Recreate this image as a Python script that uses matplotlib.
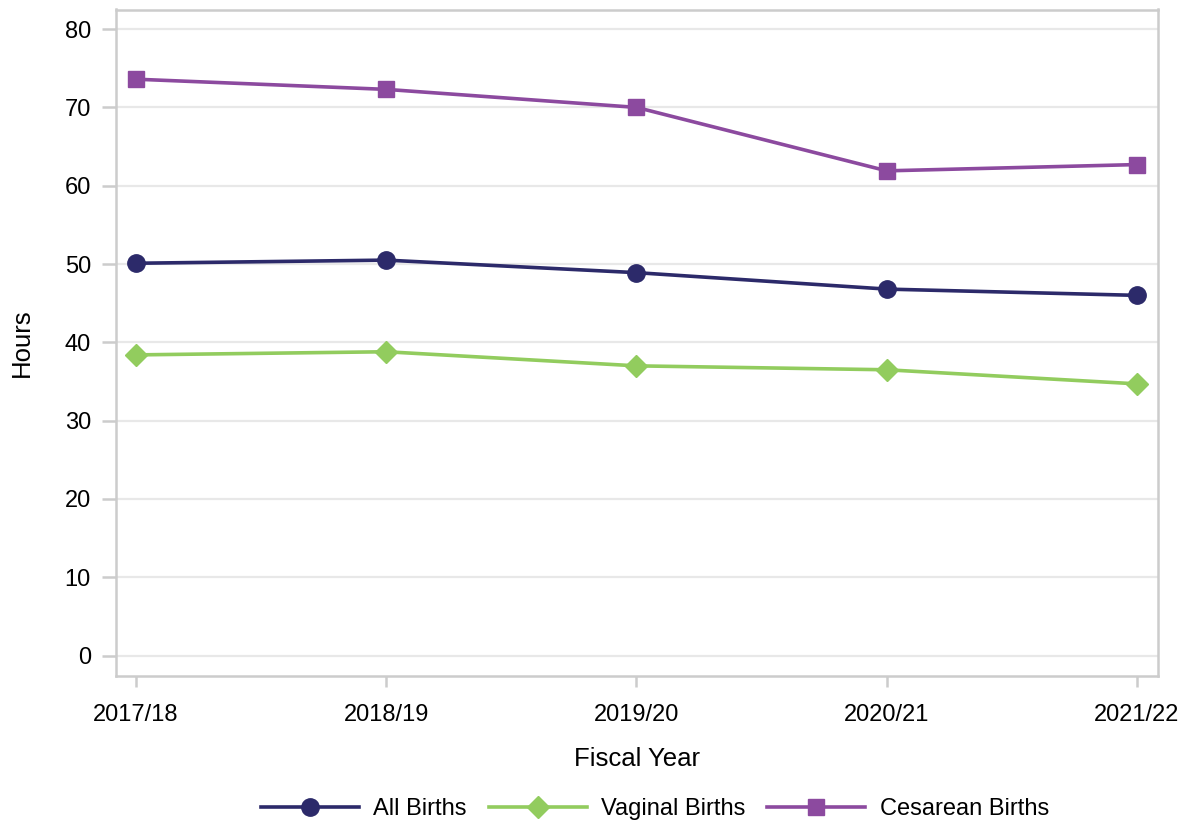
import matplotlib
matplotlib.use("Agg")
import matplotlib.pyplot as plt

years = ["2017/18", "2018/19", "2019/20", "2020/21", "2021/22"]
all_births = [50.1, 50.5, 48.9, 46.8, 46.0]
vaginal_births = [38.4, 38.8, 37.0, 36.5, 34.7]
cesarean_births = [73.6, 72.3, 70.0, 61.9, 62.7]
y_ticks = [0, 10, 20, 30, 40, 50, 60, 70, 80]

plt.rcParams['font.family'] = ['Liberation Sans', 'DejaVu Sans']

W, H = 1186, 825
fig = plt.figure(figsize=(W / 100, H / 100), dpi=100)
ax = fig.add_axes([116 / W, 1 - 676 / H, (1158 - 116) / W, (676 - 9.5) / H])

x = list(range(len(years)))
ax.plot(x, all_births, color="#2c2a6a", lw=2.6, marker="o", ms=12.5, label="All Births", zorder=3)
ax.plot(x, vaginal_births, color="#92cc5e", lw=2.6, marker="D", ms=11, label="Vaginal Births", zorder=3)
ax.plot(x, cesarean_births, color="#8c4a9f", lw=2.6, marker="s", ms=12, label="Cesarean Births", zorder=3)

ax.set_xlim(-0.08, 4.084)
ax.set_ylim(-2.6, 82.5)
ax.set_xticks(x)
ax.set_xticklabels(years)
ax.set_yticks(y_ticks)

ax.grid(axis="y", color="#e8e8e8", lw=1.6)
ax.set_axisbelow(True)
for s in ax.spines.values():
    s.set_color("#cccccc")
    s.set_linewidth(1.8)
ax.tick_params(axis="both", colors="#cccccc", width=1.8, labelsize=17, labelcolor="black")
ax.tick_params(axis="x", length=8, pad=12.5)
ax.tick_params(axis="y", length=10, pad=8)

ax.set_xlabel("Fiscal Year", fontsize=18.5, labelpad=15)
ax.set_ylabel("Hours", fontsize=18.5, labelpad=22)

fig.legend(loc="center", bbox_to_anchor=(655 / W, 1 - 809 / H), ncol=3, frameon=False,
           fontsize=17, handlelength=4.15, columnspacing=0.93, handletextpad=0.6)

fig.savefig("out.png", dpi=100)
